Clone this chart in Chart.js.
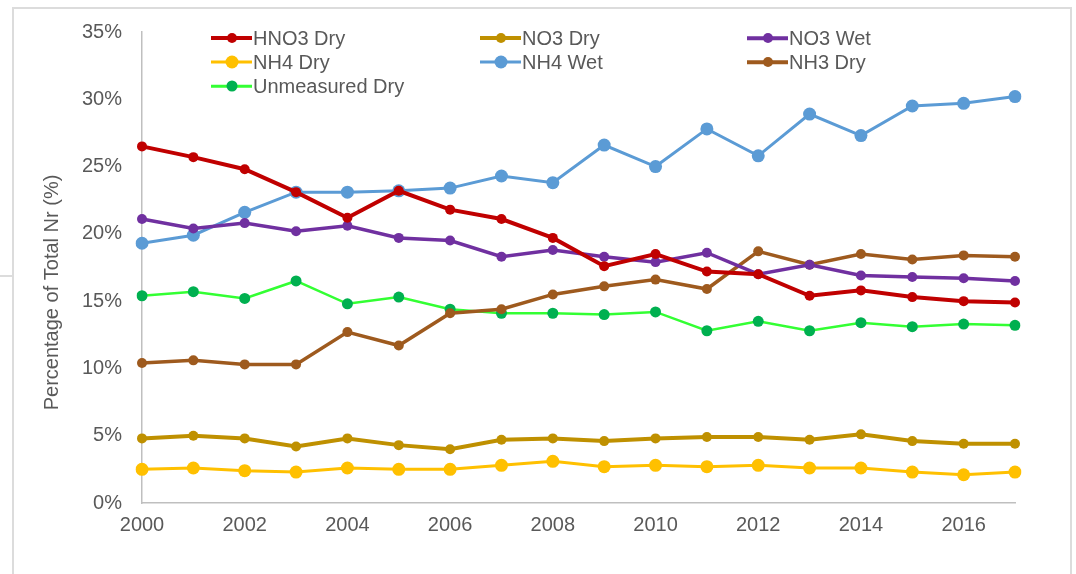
<!DOCTYPE html>
<html>
<head>
<meta charset="utf-8">
<script src="https://cdn.jsdelivr.net/npm/chart.js@4.4.1/dist/chart.umd.min.js"></script>
<style>
  body { margin: 0; background: #fff; }
  #wrap { position: relative; width: 1076px; height: 574px; overflow: hidden; }
  #frame { position: absolute; left: 12px; top: 7px; width: 1060px; height: 580px;
    border: 2px solid #dcdcdc; border-bottom: none; box-sizing: border-box; }
  #stub { position: absolute; left: 0; top: 275px; width: 12px; height: 2px; background: #dcdcdc; }
  #legend { position: absolute; left: 211px; top: 26px; display: grid;
    grid-template-columns: 269px 267px auto; grid-auto-rows: 24px;
    font: 20px "Liberation Sans", Arial, sans-serif; color: #595959; }
  .item { display: flex; align-items: center; white-space: nowrap; }
  .mark { position: relative; width: 41px; height: 24px; margin-right: 1px; }
  .mark .ln { position: absolute; left: 0; right: 0; top: 50%; transform: translateY(-50%); }
  .mark .dot { position: absolute; left: 50%; top: 50%; border-radius: 50%; transform: translate(-50%, -50%); }
</style>
</head>
<body>
<div id="wrap">
  <div id="frame"></div>
  <div id="stub"></div>
  <canvas id="nrChart" width="1076" height="574"></canvas>
  <div id="legend"></div>
</div>
<script>
const years = ['2000', '2001', '2002', '2003', '2004', '2005', '2006', '2007', '2008',
  '2009', '2010', '2011', '2012', '2013', '2014', '2015', '2016', '2017'];

// percentages of total Nr
const hno3Dry = [26.5, 25.7, 24.8, 23.1, 21.2, 23.2, 21.8, 21.1, 19.7, 17.6, 18.5, 17.2, 17.0, 15.4, 15.8, 15.3, 15.0, 14.9];
const no3Dry = [4.8, 5.0, 4.8, 4.2, 4.8, 4.3, 4.0, 4.7, 4.8, 4.6, 4.8, 4.9, 4.9, 4.7, 5.1, 4.6, 4.4, 4.4];
const no3Wet = [21.1, 20.4, 20.8, 20.2, 20.6, 19.7, 19.5, 18.3, 18.8, 18.3, 17.9, 18.6, 17.0, 17.7, 16.9, 16.8, 16.7, 16.5];
const nh4Dry = [2.5, 2.6, 2.4, 2.3, 2.6, 2.5, 2.5, 2.8, 3.1, 2.7, 2.8, 2.7, 2.8, 2.6, 2.6, 2.3, 2.1, 2.3];
const nh4Wet = [19.3, 19.9, 21.6, 23.1, 23.1, 23.2, 23.4, 24.3, 23.8, 26.6, 25.0, 27.8, 25.8, 28.9, 27.3, 29.5, 29.7, 30.2];
const nh3Dry = [10.4, 10.6, 10.3, 10.3, 12.7, 11.7, 14.1, 14.4, 15.5, 16.1, 16.6, 15.9, 18.7, 17.7, 18.5, 18.1, 18.4, 18.3];
const unmeasuredDry = [15.4, 15.7, 15.2, 16.5, 14.8, 15.3, 14.4, 14.1, 14.1, 14.0, 14.2, 12.8, 13.5, 12.8, 13.4, 13.1, 13.3, 13.2];

const yTicks = [0, 5, 10, 15, 20, 25, 30, 35];

const FONT = '"Liberation Sans", Arial, sans-serif';
const TEXT = '#595959';
const AXIS = '#bfbfbf';

// label, data, line colour, point colour, line width, point radius
const series = [
  ['HNO3 Dry', hno3Dry, '#c00000', '#c00000', 4, 5],
  ['NO3 Dry', no3Dry, '#bf9000', '#bf9000', 4, 5],
  ['NO3 Wet', no3Wet, '#7030a0', '#7030a0', 3.5, 5],
  ['NH4 Dry', nh4Dry, '#ffc000', '#ffc000', 3, 6.5],
  ['NH4 Wet', nh4Wet, '#5b9bd5', '#5b9bd5', 3, 6.5],
  ['NH3 Dry', nh3Dry, '#9e5a1e', '#9e5a1e', 3.5, 5],
  ['Unmeasured Dry', unmeasuredDry, '#33ff33', '#00b050', 2.5, 5.5],
];

const datasets = series.map(([label, data, color, pointColor, width, radius]) => ({
  label,
  data,
  borderColor: color,
  backgroundColor: pointColor,
  borderWidth: width,
  pointRadius: radius,
  pointHoverRadius: radius,
  pointBackgroundColor: pointColor,
  pointBorderWidth: 0,
  tension: 0,
  fill: false,
}));

// y axis title sits a little below the middle of the plot
const yTitle = {
  id: 'yTitle',
  afterDraw(chart) {
    const { ctx, chartArea } = chart;
    ctx.save();
    ctx.translate(chartArea.left - 90, (chartArea.top + chartArea.bottom) / 2 + 25);
    ctx.rotate(-Math.PI / 2);
    ctx.font = '20px ' + FONT;
    ctx.fillStyle = TEXT;
    ctx.textAlign = 'center';
    ctx.textBaseline = 'middle';
    ctx.fillText('Percentage of Total Nr (%)', 0, 0);
    ctx.restore();
  },
};

new Chart(document.getElementById('nrChart'), {
  type: 'line',
  data: { labels: years, datasets },
  options: {
    responsive: false,
    animation: false,
    layout: { padding: { left: 0, right: 61, top: 32, bottom: 0 } },
    plugins: { legend: { display: false }, tooltip: { enabled: false } },
    scales: {
      x: {
        grid: { display: false, drawTicks: false },
        border: { display: true, color: AXIS, width: 1.5 },
        ticks: {
          autoSkip: false,
          maxRotation: 0,
          padding: 10,
          color: TEXT,
          font: { size: 20, family: FONT },
          callback: (v, i) => (i % 2 === 0 ? years[i] : ''),
        },
        afterFit: scale => { scale.height = 71; },
      },
      y: {
        min: 0,
        max: 35,
        afterBuildTicks: scale => { scale.ticks = yTicks.map(value => ({ value })); },
        grid: { display: false, drawTicks: false },
        border: { display: true, color: AXIS, width: 1.5 },
        ticks: {
          padding: 20,
          color: TEXT,
          font: { size: 20, family: FONT },
          callback: v => v + '%',
        },
        afterFit: scale => { scale.width = 142; },
      },
    },
  },
  plugins: [yTitle],
});

// Legend laid out in three columns like the original
const legend = document.getElementById('legend');
legend.innerHTML = series
  .map(
    ([label, , color, pointColor, width, radius]) =>
      `<div class="item"><span class="mark">` +
      `<span class="ln" style="height:${width}px;background:${color}"></span>` +
      `<span class="dot" style="width:${radius * 2}px;height:${radius * 2}px;background:${pointColor}"></span>` +
      `</span><span>${label}</span></div>`
  )
  .join('');
</script>
</body>
</html>
